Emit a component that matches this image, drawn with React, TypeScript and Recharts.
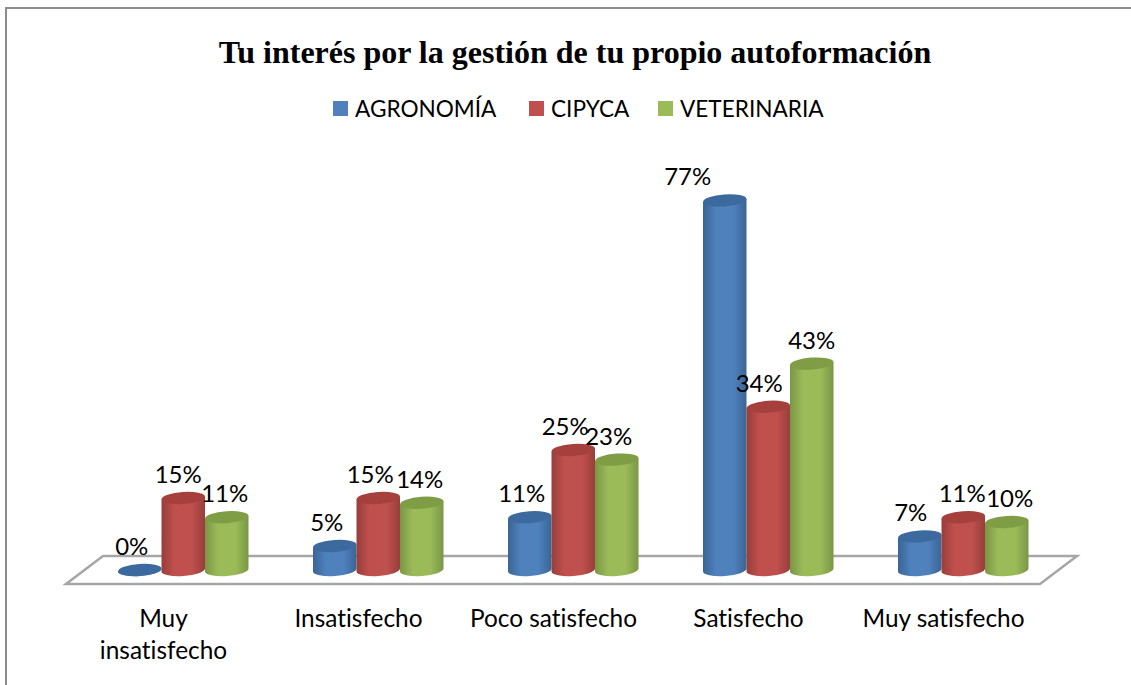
import React from "react";
import { BarChart, Bar, XAxis, YAxis, LabelList, Customized, usePlotArea } from "recharts";

const categories = ["Muy insatisfecho", "Insatisfecho", "Poco satisfecho", "Satisfecho", "Muy satisfecho"];
const agronomia = [0, 5, 11, 77, 7];
const cipyca = [15, 15, 25, 34, 11];
const veterinaria = [11, 14, 23, 43, 10];
const title = "Tu interés por la gestión de tu propio autoformación";

const rows = categories.map((name, i) => ({
  name,
  AGRONOMÍA: agronomia[i],
  CIPYCA: cipyca[i],
  VETERINARIA: veterinaria[i],
}));

const SANS = "Lato, sans-serif";
const noLig = { fontVariantLigatures: "none" } as React.CSSProperties;
const tickLines: Record<string, string[]> = { "Muy insatisfecho": ["Muy", "insatisfecho"] };

const styles = [
  { key: "AGRONOMÍA", id: "gb", base: "#4F81BD", edge: "#3A6595", top: "#3D6A9E", labelDx: [-8, -8, -8, -37, -9] },
  { key: "CIPYCA", id: "gr", base: "#C0504D", edge: "#973E3B", top: "#A6403D", labelDx: [-5, -8, -8, -9, -1] },
  { key: "VETERINARIA", id: "gg", base: "#9BBB59", edge: "#7A9645", top: "#7F9D45", labelDx: [-2, -2, -8, 0, 3] },
];

function Cylinder(props: any) {
  const { x, y, width, height, fill, top } = props;
  const rx = width / 2;
  const ry = 6;
  const t = 1.5;
  const cx = x + rx;
  const bottom = y + height;
  return (
    <g>
      <path
        d={`M${x},${y + t} L${x},${bottom + t} A${rx},${ry} -4 0 0 ${x + width},${bottom - t} L${x + width},${y - t} Z`}
        fill={fill}
      />
      <ellipse cx={cx} cy={y} rx={rx} ry={ry} fill={top} transform={`rotate(-4 ${cx} ${y})`} />
    </g>
  );
}

function Floor() {
  const p = usePlotArea();
  if (!p) return null;
  const by = p.y + p.height;
  const l = p.x;
  const r = p.x + p.width;
  const pts = [
    [l - 20, by + 14],
    [r - 21, by + 14],
    [r + 16, by - 14],
    [l + 17, by - 14],
  ];
  return <polygon points={pts.map((a) => a.join(",")).join(" ")} fill="#fff" stroke="#A6A6A6" strokeWidth={2.5} />;
}

function CategoryTick(props: any) {
  const { x, y, payload } = props;
  const lines = tickLines[payload.value] ?? [payload.value];
  return (
    <text x={x - 20} y={y} textAnchor="middle" fontFamily={SANS} fontSize={24.4} fill="#000" style={noLig}>
      {lines.map((l: string, i: number) => (
        <tspan key={l} x={x - 20} dy={i === 0 ? 0 : 32}>
          {l}
        </tspan>
      ))}
    </text>
  );
}

function makeLabel(dxs: number[]) {
  return function BarValue(props: any) {
    const { x, y, width, value, index } = props;
    return (
      <text x={x + width / 2 + dxs[index]} y={y - 15} textAnchor="middle" fontFamily={SANS} fontSize={24} fill="#000">
        {value}%
      </text>
    );
  };
}

function LegendRow() {
  const pos = [
    { sw: 333, tx: 355 },
    { sw: 529, tx: 551 },
    { sw: 658, tx: 680 },
  ];
  return (
    <g>
      {styles.map((s, i) => (
        <g key={s.key}>
          <rect x={pos[i].sw} y={101} width={15} height={15} fill={s.base} />
          <text x={pos[i].tx} y={116.5} fontFamily={SANS} fontSize={22.6} fill="#000">
            {s.key}
          </text>
        </g>
      ))}
    </g>
  );
}

export default function App() {
  return (
    <div style={{ position: "absolute", left: 0, top: 0, width: 1131, height: 685, background: "#fff", overflow: "hidden" }}>
      <BarChart
        width={1131}
        height={685}
        data={rows}
        margin={{ top: 138, right: 70, bottom: 0, left: 86 }}
        barSize={43.5}
        barGap={0}
        barCategoryGap={0}
      >
        <defs>
          {styles.map((s) => (
            <linearGradient key={s.id} id={s.id} x1="0" y1="0" x2="1" y2="0">
              <stop offset="0%" stopColor={s.edge} />
              <stop offset="30%" stopColor={s.base} />
              <stop offset="70%" stopColor={s.base} />
              <stop offset="100%" stopColor={s.edge} />
            </linearGradient>
          ))}
        </defs>
        <Customized
          component={() => (
            <g>
              <rect x={6} y={8} width={1140} height={700} fill="#fff" stroke="#8C8C8C" strokeWidth={2} />
              <text x={575} y={63} textAnchor="middle" fontFamily="'Liberation Serif', serif" fontWeight="bold" fontSize={32} fill="#000">
                {title}
              </text>
              <LegendRow />
            </g>
          )}
        />
        <Customized component={Floor} />
        <XAxis
          dataKey="name"
          axisLine={false}
          tickLine={false}
          interval={0}
          height={115}
          tick={<CategoryTick />}
          tickMargin={51}
        />
        <YAxis hide domain={[0, 90]} />
        {styles.map((s) => (
          <Bar
            key={s.key}
            dataKey={s.key}
            isAnimationActive={false}
            fill={`url(#${s.id})`}
            shape={(p: any) => <Cylinder {...p} fill={`url(#${s.id})`} top={s.top} />}
          >
            <LabelList dataKey={s.key} content={makeLabel(s.labelDx)} />
          </Bar>
        ))}
      </BarChart>
    </div>
  );
}
